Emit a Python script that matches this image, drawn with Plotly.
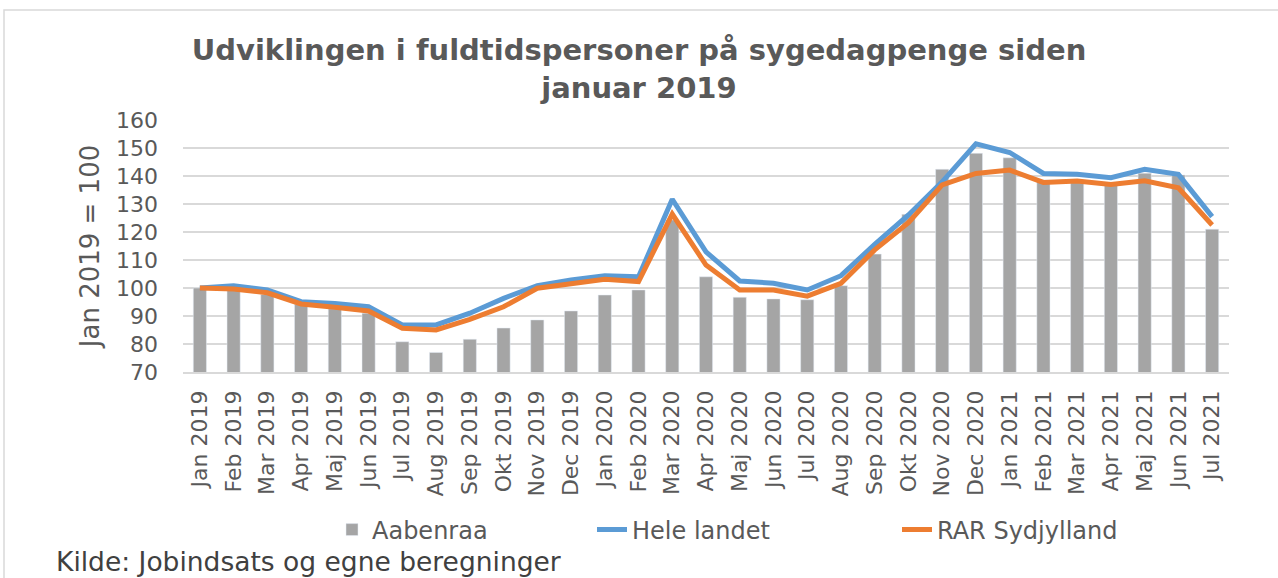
import plotly.graph_objects as go

months = ["Jan 2019", "Feb 2019", "Mar 2019", "Apr 2019", "Maj 2019", "Jun 2019",
          "Jul 2019", "Aug 2019", "Sep 2019", "Okt 2019", "Nov 2019", "Dec 2019",
          "Jan 2020", "Feb 2020", "Mar 2020", "Apr 2020", "Maj 2020", "Jun 2020",
          "Jul 2020", "Aug 2020", "Sep 2020", "Okt 2020", "Nov 2020", "Dec 2020",
          "Jan 2021", "Feb 2021", "Mar 2021", "Apr 2021", "Maj 2021", "Jun 2021",
          "Jul 2021"]

aabenraa = [100.0, 99.4, 97.7, 94.2, 92.6, 91.0, 80.8, 77.0, 81.7, 85.7, 88.6, 91.8,
            97.5, 99.3, 124.3, 104.0, 96.7, 96.1, 95.8, 100.8, 112.1, 126.3, 142.4,
            148.1, 146.5, 138.6, 138.0, 136.8, 141.0, 140.4, 121.0]

hele_landet = [100.0, 100.8, 99.3, 95.1, 94.5, 93.3, 86.8, 86.8, 91.0, 96.3, 100.8,
               102.9, 104.4, 104.0, 131.7, 112.9, 102.5, 101.7, 99.3, 104.4, 115.6,
               126.1, 137.9, 151.5, 148.4, 140.9, 140.6, 139.4, 142.4, 140.6, 125.5]

rar_sydjylland = [100.0, 99.6, 98.3, 94.3, 93.1, 91.8, 85.6, 85.0, 88.8, 93.3, 99.9,
                  101.7, 103.1, 102.3, 126.4, 108.2, 99.3, 99.3, 97.1, 101.7, 113.6,
                  123.3, 136.8, 140.9, 142.1, 137.7, 138.2, 137.0, 138.3, 135.8, 122.5]

title_text = "Udviklingen i fuldtidspersoner på sygedagpenge siden<br>januar 2019"
y_title = "Jan 2019 = 100"
source_text = "Kilde: Jobindsats og egne beregninger"

FONT = "DejaVu Sans"
TXT = "#595959"

PL, PR, PT, PB = 183, 1229, 120, 372
W, H = 1278, 578
pw, ph = PR - PL, PB - PT


def px(x):
    return (x - PL) / pw


def py(y):
    return (PB - y) / ph


fig = go.Figure()
fig.add_trace(go.Bar(x=months, y=aabenraa, name="Aabenraa", marker_color="#a5a5a5",
                     width=0.39, legend="legend"))
fig.add_trace(go.Scatter(x=months, y=hele_landet, name="Hele landet", mode="lines",
                         line=dict(color="#5b9bd5", width=5), legend="legend2"))
fig.add_trace(go.Scatter(x=months, y=rar_sydjylland, name="RAR Sydjylland", mode="lines",
                         line=dict(color="#ed7d31", width=5), legend="legend3"))

leg_common = dict(orientation="h", yanchor="middle", xanchor="left",
                  font=dict(family=FONT, size=24, color=TXT), bgcolor="rgba(0,0,0,0)")

fig.update_layout(
    width=W, height=H,
    margin=dict(l=PL, r=W - PR, t=PT, b=H - PB, autoexpand=False),
    paper_bgcolor="white", plot_bgcolor="white",
    font=dict(family=FONT, color=TXT),
    showlegend=True,
    title=dict(text=title_text, x=0.5, xref="container", xanchor="center",
               y=1 - 60 / H, yanchor="top",
               font=dict(family=FONT, size=29, color=TXT, weight="bold")),
    legend=dict(x=px(332), y=py(530), **leg_common),
    legend2=dict(x=px(592), y=py(530), **leg_common),
    legend3=dict(x=px(897), y=py(530), **leg_common),
    xaxis=dict(type="category", tickangle=-90, showgrid=False,
               showline=True, linecolor="#d9d9d9", linewidth=1.5,
               ticks="", ticklabelstandoff=8,
               tickfont=dict(family=FONT, size=22, color=TXT)),
    yaxis=dict(range=[70, 160], dtick=10, showgrid=True, gridcolor="#d9d9d9",
               gridwidth=1.5, zeroline=False, showline=False, ticks="",
               ticklabelstandoff=24,
               tickfont=dict(family=FONT, size=22, color=TXT),
               title=dict(text=y_title, standoff=8,
                          font=dict(family=FONT, size=26, color=TXT))),
    annotations=[dict(text=source_text, xref="paper", yref="paper",
                      x=px(54), y=py(561), xanchor="left", yanchor="middle",
                      showarrow=False,
                      font=dict(family=FONT, size=26.5, color="#404040"))],
    shapes=[dict(type="rect", xref="paper", yref="paper",
                 x0=px(4), x1=px(1290), y0=py(700), y1=py(10),
                 line=dict(color="#d9d9d9", width=1.5), layer="below")],
)

fig.write_html("out.html",
               config={"displayModeBar": False},
               post_script="document.body.style.margin='0px';"
                           "document.body.style.overflow='hidden';")
